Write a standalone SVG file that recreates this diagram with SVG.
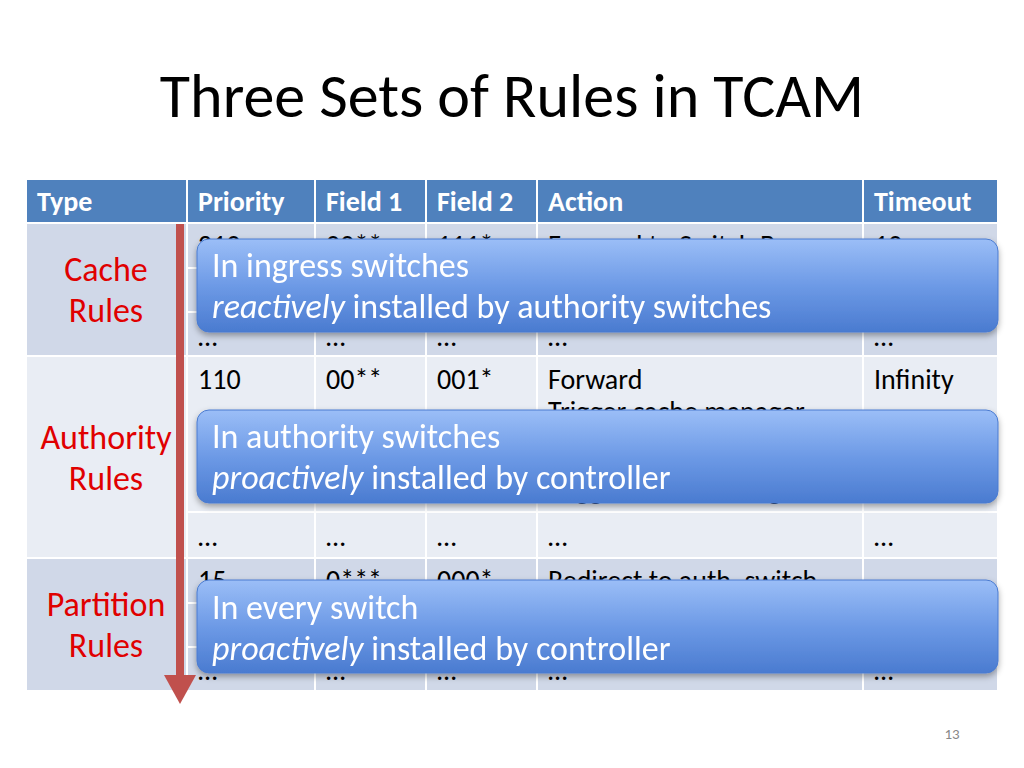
<svg xmlns="http://www.w3.org/2000/svg" width="1024" height="768" viewBox="0 0 1024 768">
<defs>
<linearGradient id="g" x1="0" y1="0" x2="0" y2="1"><stop offset="0" stop-color="#9bbef7"/><stop offset="0.5" stop-color="#6d9ae6"/><stop offset="1" stop-color="#4a7bd0"/></linearGradient>
<filter id="sh" x="-5%" y="-10%" width="110%" height="130%"><feDropShadow dx="0" dy="3" stdDeviation="3" flood-opacity="0.35"/></filter>
</defs>
<style>
text{font-family:Carlito,"Open Sans","Liberation Sans",sans-serif}
.h{fill:#fff;font-size:28px;font-weight:bold}
.c{fill:#000;font-size:28px}
.r{fill:#e00000;font-size:34px;text-anchor:middle}
.o{fill:#fff;font-size:34px}
.dk{fill:#d0d8e8}.lt{fill:#e9edf4}
</style>
<rect width="1024" height="768" fill="#fff"/>
<text x="512" y="117" font-size="62" text-anchor="middle" fill="#000">Three Sets of Rules in TCAM</text>
<g id="table">
<rect x="27" y="180" width="970" height="42" fill="#4f81bd"/>
<rect class="dk" x="27" y="224" width="970" height="131"/>
<rect class="lt" x="27" y="357" width="970" height="200"/>
<rect class="dk" x="27" y="559" width="970" height="131"/>
<g stroke="#fff" stroke-width="2">
<line x1="187" y1="180" x2="187" y2="690"/><line x1="315" y1="180" x2="315" y2="690"/><line x1="426" y1="180" x2="426" y2="690"/><line x1="537" y1="180" x2="537" y2="690"/><line x1="863" y1="180" x2="863" y2="690"/>
<line x1="187" y1="268" x2="997" y2="268"/><line x1="187" y1="312" x2="997" y2="312"/>
<line x1="187" y1="512" x2="997" y2="512"/>
<line x1="187" y1="603" x2="997" y2="603"/><line x1="187" y1="647" x2="997" y2="647"/>
</g>
<text class="h" x="37" y="211">Type</text><text class="h" x="198" y="211">Priority</text><text class="h" x="326" y="211">Field 1</text><text class="h" x="437" y="211">Field 2</text><text class="h" x="548" y="211">Action</text><text class="h" x="874" y="211">Timeout</text>
<text class="c" x="198" y="255">210</text><text class="c" x="326" y="255">00**</text><text class="c" x="437" y="255">111*</text><text class="c" x="548" y="255">Forward to Switch B</text><text class="c" x="874" y="255">10</text>
<text class="c" x="198" y="346">…</text><text class="c" x="326" y="346">…</text><text class="c" x="437" y="346">…</text><text class="c" x="548" y="346">…</text><text class="c" x="874" y="346">…</text>
<text class="c" x="198" y="389">110</text><text class="c" x="326" y="389">00**</text><text class="c" x="437" y="389">001*</text><text class="c" x="548" y="389">Forward</text><text class="c" x="874" y="389">Infinity</text>
<text class="c" x="548" y="421">Trigger cache manager</text>
<text class="c" x="548" y="499">Trigger cache manager</text>
<text class="c" x="198" y="546">…</text><text class="c" x="326" y="546">…</text><text class="c" x="437" y="546">…</text><text class="c" x="548" y="546">…</text><text class="c" x="874" y="546">…</text>
<text class="c" x="198" y="590">15</text><text class="c" x="326" y="590">0***</text><text class="c" x="437" y="590">000*</text><text class="c" x="548" y="590">Redirect to auth. switch</text>
<text class="c" x="198" y="680">…</text><text class="c" x="326" y="680">…</text><text class="c" x="437" y="680">…</text><text class="c" x="548" y="680">…</text><text class="c" x="874" y="680">…</text>
<text class="r" x="106" y="281">Cache</text><text class="r" x="106" y="322">Rules</text>
<text class="r" x="106" y="449">Authority</text><text class="r" x="106" y="490">Rules</text>
<text class="r" x="106" y="616">Partition</text><text class="r" x="106" y="657">Rules</text>
</g>
<g id="connectors">
<line x1="180" y1="224" x2="180" y2="682" stroke="#c0504d" stroke-width="8"/>
<polygon points="164,675 196,675 180,704" fill="#c0504d"/>
</g>
<g id="box1" filter="url(#sh)"><rect x="197" y="239" width="801" height="93" rx="12" fill="url(#g)" stroke="#4a7bd0"/>
<text class="o" x="212" y="277">In ingress switches</text><text class="o" x="212" y="318"><tspan font-style="italic">reactively</tspan> installed by authority switches</text></g>
<g id="box2" filter="url(#sh)"><rect x="197" y="410" width="801" height="93" rx="12" fill="url(#g)" stroke="#4a7bd0"/>
<text class="o" x="212" y="448">In authority switches</text><text class="o" x="212" y="489"><tspan font-style="italic">proactively</tspan> installed by controller</text></g>
<g id="box3" filter="url(#sh)"><rect x="197" y="580" width="801" height="93" rx="12" fill="url(#g)" stroke="#4a7bd0"/>
<text class="o" x="212" y="619">In every switch</text><text class="o" x="212" y="660"><tspan font-style="italic">proactively</tspan> installed by controller</text></g>
<text x="952" y="739" font-size="15" fill="#888" text-anchor="middle">13</text>
</svg>
